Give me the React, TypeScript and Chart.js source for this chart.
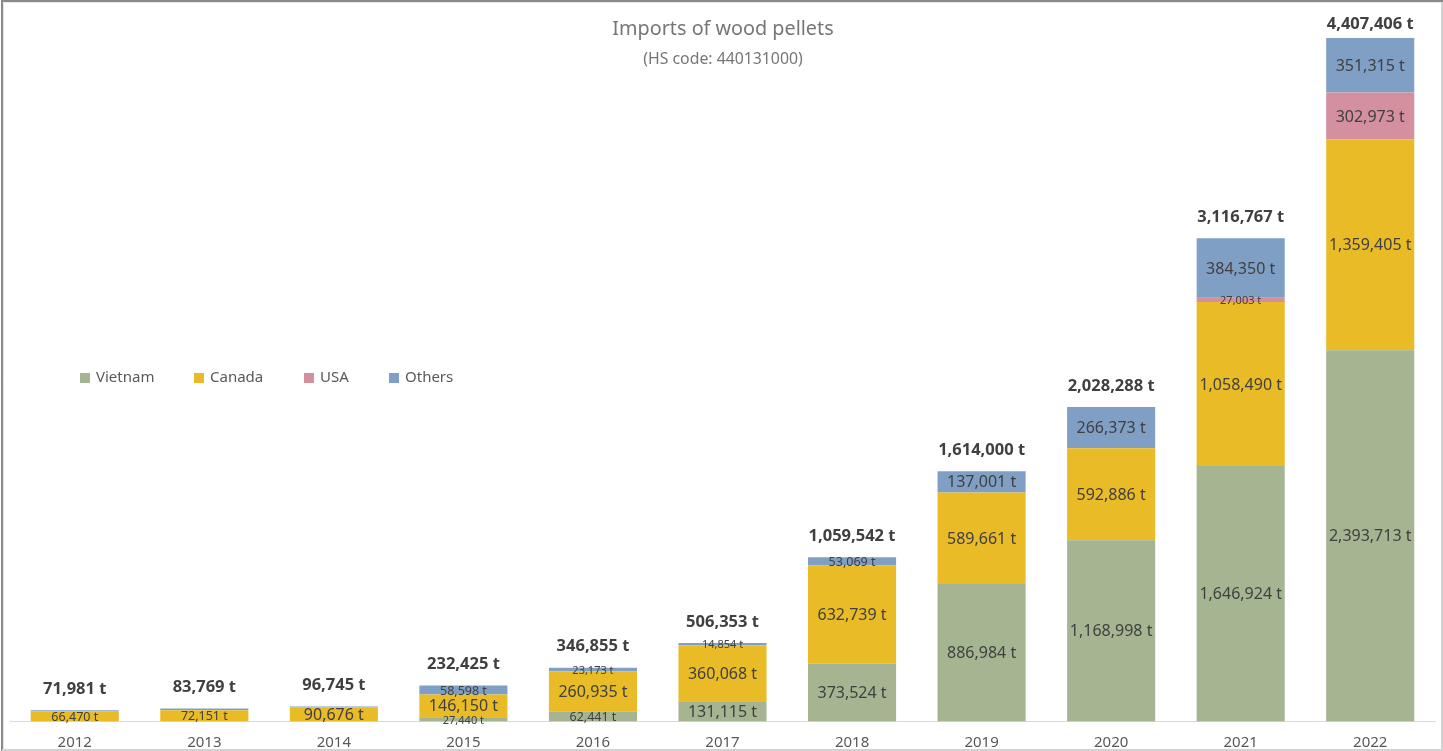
import React, { useEffect, useRef } from "react";
import { Chart, registerables } from "chart.js";

Chart.register(...registerables);

const years = ["2012", "2013", "2014", "2015", "2016", "2017", "2018", "2019", "2020", "2021", "2022"];
const seriesNames = ["Vietnam", "Canada", "USA", "Others"];
const vietnam = [0, 0, 0, 27440, 62441, 131115, 373524, 886984, 1168998, 1646924, 2393713];
const canada = [66470, 72151, 90676, 146150, 260935, 360068, 632739, 589661, 592886, 1058490, 1359405];
const usa = [0, 0, 0, 237, 306, 316, 210, 354, 31, 27003, 302973];
const others = [5511, 11618, 6069, 58598, 23173, 14854, 53069, 137001, 266373, 384350, 351315];
const totals = [71981, 83769, 96745, 232425, 346855, 506353, 1059542, 1614000, 2028288, 3116767, 4407406];
const titleText = "Imports of wood pellets";
const subtitleText = "(HS code: 440131000)";

const colors = ["#a5b592", "#e8bb27", "#d4909f", "#809fc5"];
const FONT = "'Noto Sans', sans-serif";
const fmt = (v: number) => v.toLocaleString("en-US") + " t";

const labelPlugin = {
  id: "customText",
  afterDraw(chart: any) {
    const ctx = chart.ctx as CanvasRenderingContext2D;
    const W = chart.width;
    const H = chart.height;
    ctx.save();
    // frame
    ctx.lineWidth = 2;
    ctx.strokeStyle = "#8a8a8a";
    ctx.beginPath();
    ctx.moveTo(2, H);
    ctx.lineTo(2, 1);
    ctx.lineTo(W, 1);
    ctx.stroke();
    ctx.lineWidth = 1;
    ctx.strokeStyle = "#e6e6e6";
    ctx.beginPath();
    ctx.moveTo(3.5, H);
    ctx.lineTo(3.5, 2.5);
    ctx.lineTo(W, 2.5);
    ctx.stroke();
    ctx.lineWidth = 2;
    ctx.strokeStyle = "#d2d2d2";
    ctx.beginPath();
    ctx.moveTo(W - 1, 2);
    ctx.lineTo(W - 1, H - 1);
    ctx.lineTo(2, H - 1);
    ctx.stroke();

    // title
    ctx.textAlign = "center";
    ctx.textBaseline = "middle";
    ctx.fillStyle = "#767676";
    ctx.font = `19.8px ${FONT}`;
    ctx.fillText(titleText, 723, 29);
    ctx.font = `15.8px ${FONT}`;
    ctx.fillText(subtitleText, 723, 59);

    // legend
    const legendX = [80, 194, 304, 389];
    ctx.font = `15px ${FONT}`;
    ctx.textAlign = "left";
    chart.data.datasets.forEach((ds: any, i: number) => {
      ctx.fillStyle = ds.backgroundColor;
      ctx.fillRect(legendX[i], 373, 10, 10);
      ctx.fillStyle = "#595959";
      ctx.fillText(ds.label, legendX[i] + 16, 378);
    });

    // segment labels
    ctx.textAlign = "center";
    ctx.fillStyle = "#404040";
    chart.data.datasets.forEach((ds: any, di: number) => {
      const meta = chart.getDatasetMeta(di);
      meta.data.forEach((el: any, i: number) => {
        const v = ds.data[i];
        if (!v || v < 14000) return;
        const h = Math.abs(el.base - el.y);
        let size = 16;
        if (h < 5) size = 11;
        else if (h < 12) size = 12.5;
        ctx.font = `${size}px ${FONT}`;
        ctx.fillText(fmt(v), el.x, (el.y + el.base) / 2 + 1);
      });
    });

    // totals
    const y = chart.scales.y;
    const meta0 = chart.getDatasetMeta(0);
    ctx.font = `bold 16.5px ${FONT}`;
    totals.forEach((t, i) => {
      const x = meta0.data[i].x;
      const py = Math.max(y.getPixelForValue(t) - 21, 24);
      ctx.fillText(fmt(t), x, py);
    });
    ctx.restore();
  },
};

export default function App() {
  const ref = useRef<HTMLCanvasElement | null>(null);
  useEffect(() => {
    if (!ref.current) return;
    const series = [vietnam, canada, usa, others];
    const chart = new Chart(ref.current, {
      type: "bar",
      data: {
        labels: years,
        datasets: series.map((d, i) => ({
          label: seriesNames[i],
          data: d,
          backgroundColor: colors[i],
          borderWidth: 0,
          barPercentage: 0.68,
          categoryPercentage: 1,
        })),
      },
      options: {
        animation: false,
        responsive: true,
        maintainAspectRatio: false,
        layout: { padding: { top: 38, left: 10, right: 8, bottom: -4.5 } },
        plugins: {
          legend: { display: false },
          title: { display: false },
          tooltip: { enabled: false },
        },
        scales: {
          x: {
            stacked: true,
            grid: { display: false },
            border: { display: true, color: "#d9d9d9", width: 1 },
            ticks: { color: "#595959", font: { size: 15, family: FONT }, padding: 4 },
          },
          y: {
            stacked: true,
            display: false,
            min: 0,
            max: Math.max(...totals),
          },
        },
      },
      plugins: [labelPlugin],
    });
    return () => chart.destroy();
  }, []);
  return (
    <div style={{ position: "absolute", left: 0, top: 0, width: 1443, height: 751, background: "#fff" }}>
      <canvas ref={ref} />
    </div>
  );
}
